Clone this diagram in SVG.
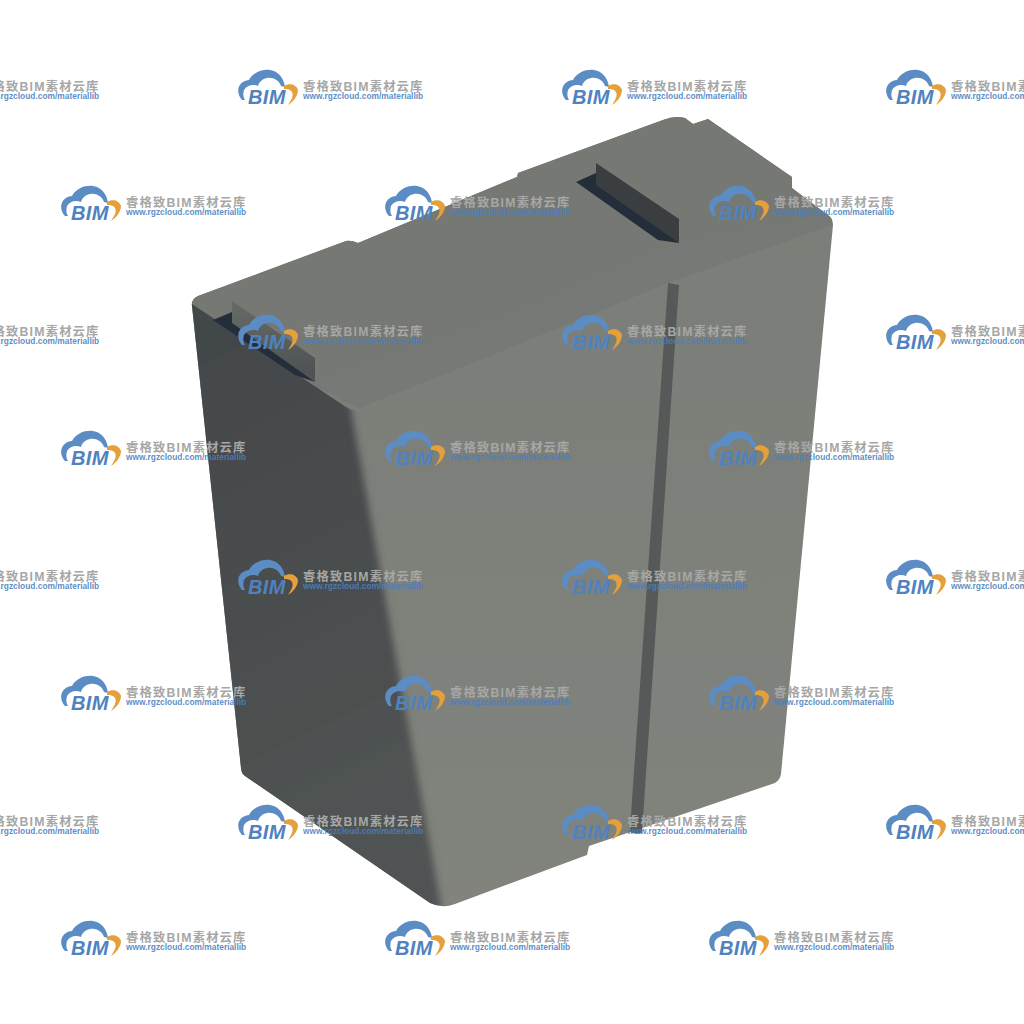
<svg xmlns="http://www.w3.org/2000/svg" width="1024" height="1024" viewBox="0 0 1024 1024">
<style>
.cn{font-family:"Liberation Sans","Noto Sans CJK SC",sans-serif;font-size:12.3px;font-weight:700;fill:#a6a7a6;letter-spacing:1.2px}
.url{font-family:"Liberation Sans",sans-serif;font-size:8.4px;font-weight:700;fill:#4a7fc0;fill-opacity:.9}
.bim{font-family:"Liberation Sans",sans-serif;font-size:20px;font-weight:700;font-style:italic;fill:#4f82bf;letter-spacing:.4px}
</style>
<defs>
<linearGradient id="dark" gradientUnits="userSpaceOnUse" x1="200" y1="350" x2="420" y2="800">
<stop offset="0" stop-color="#43474a"/><stop offset="1" stop-color="#505352"/>
</linearGradient>
<linearGradient id="front" x1="0" y1="0" x2="0" y2="1">
<stop offset="0" stop-color="#7a7d78"/><stop offset="1" stop-color="#81837c"/>
</linearGradient>
<linearGradient id="wall2" x1="0" y1="0" x2="0.2" y2="1">
<stop offset="0" stop-color="#666a67"/><stop offset="1" stop-color="#4f5354"/>
</linearGradient>
<filter id="soft" x="-10%" y="-10%" width="120%" height="120%"><feGaussianBlur stdDeviation="3.5"/></filter>
<filter id="aa" x="-5%" y="-5%" width="110%" height="110%"><feGaussianBlur stdDeviation="0.5"/></filter>
<clipPath id="body"><path d="M192 306Q191 299 198 296L346 241Q351 240 358 243L517 177L518 173L663 120Q675 115 685 118L693 124L708 119L792 177V188L829 216Q833 219 833 225L781 774Q780 780 775 783L589 846L587 855L455 904Q442 909 430 903L245 776Q241 773 241 768Z"/></clipPath>
<clipPath id="below"><path d="M150 275L192 304L346 407Q355 412 370 412L480 960H150Z"/></clipPath>
<g id="wm">
<path fill="#5b8cc4" d="M4 30C-3 22 0 11 11 10C15 2 25-1 32 0C40 1 46 8 47 17L43 16C41 10 35 7 29 8C24 9 21 12 20 16C15 14 9 15 6 20C5 24 5 27 7 30Z"/>
<path fill="#e5a03c" d="M46 16C51 13 58 14 60 20C60 26 55 32 50 35C53 30 56 26 54 22C52 19 49 19 46 19Z"/>
<text class="bim" x="10" y="34">BIM</text>
<text class="cn" x="65" y="21">睿格致BIM素材云库</text>
<text class="url" x="65" y="29">www.rgzcloud.com/materiallib</text>
</g>
</defs>
<rect width="1024" height="1024" fill="#fff"/>
<g id="block" filter="url(#aa)">
<g clip-path="url(#body)">
<rect x="180" y="100" width="670" height="820" fill="url(#front)"/>
<path id="top-face" fill="#757873" d="M180 100H850V212L679 270L505 338L350 402L300 380L180 300Z"/>
<path id="band" fill="#767975" d="M315 382L505 318L679 243L832 215L832 225L668 283L505 350L360 408L340 400Z"/>
<g clip-path="url(#below)">
<path id="left-face" fill="url(#dark)" filter="url(#soft)" d="M120 230H250L346 390Q352 412 353 420L441 905L440 960H120Z"/>
</g>
</g>
</g>
<g id="slot-right">
<path fill="#242d3a" d="M576 182L596 173L679 243L658 240Z"/>
<path fill="#3a3e40" d="M596 163L679 219V243L596 185Z"/>
</g>
<g id="slot-left">
<path fill="#242d3a" d="M213 320L232 312L315 382L295 375Z"/>
<path fill="url(#wall2)" d="M232 301L315 358V382L232 323Z"/>
</g>
<g id="groove">
<path fill="#555958" d="M668 283L679 285L642 833Q637 835 630 832L632 800Z"/>
</g>
<g id="watermarks">
<use href="#wm" x="-86" y="70"/><use href="#wm" x="238" y="70"/><use href="#wm" x="562" y="70"/><use href="#wm" x="886" y="70"/>
<use href="#wm" x="61" y="186"/><use href="#wm" x="385" y="186"/><use href="#wm" x="709" y="186"/>
<use href="#wm" x="-86" y="315"/><use href="#wm" x="238" y="315"/><use href="#wm" x="562" y="315"/><use href="#wm" x="886" y="315"/>
<use href="#wm" x="61" y="431"/><use href="#wm" x="385" y="431"/><use href="#wm" x="709" y="431"/>
<use href="#wm" x="-86" y="560"/><use href="#wm" x="238" y="560"/><use href="#wm" x="562" y="560"/><use href="#wm" x="886" y="560"/>
<use href="#wm" x="61" y="676"/><use href="#wm" x="385" y="676"/><use href="#wm" x="709" y="676"/>
<use href="#wm" x="-86" y="805"/><use href="#wm" x="238" y="805"/><use href="#wm" x="562" y="805"/><use href="#wm" x="886" y="805"/>
<use href="#wm" x="61" y="921"/><use href="#wm" x="385" y="921"/><use href="#wm" x="709" y="921"/>
</g>
</svg>
